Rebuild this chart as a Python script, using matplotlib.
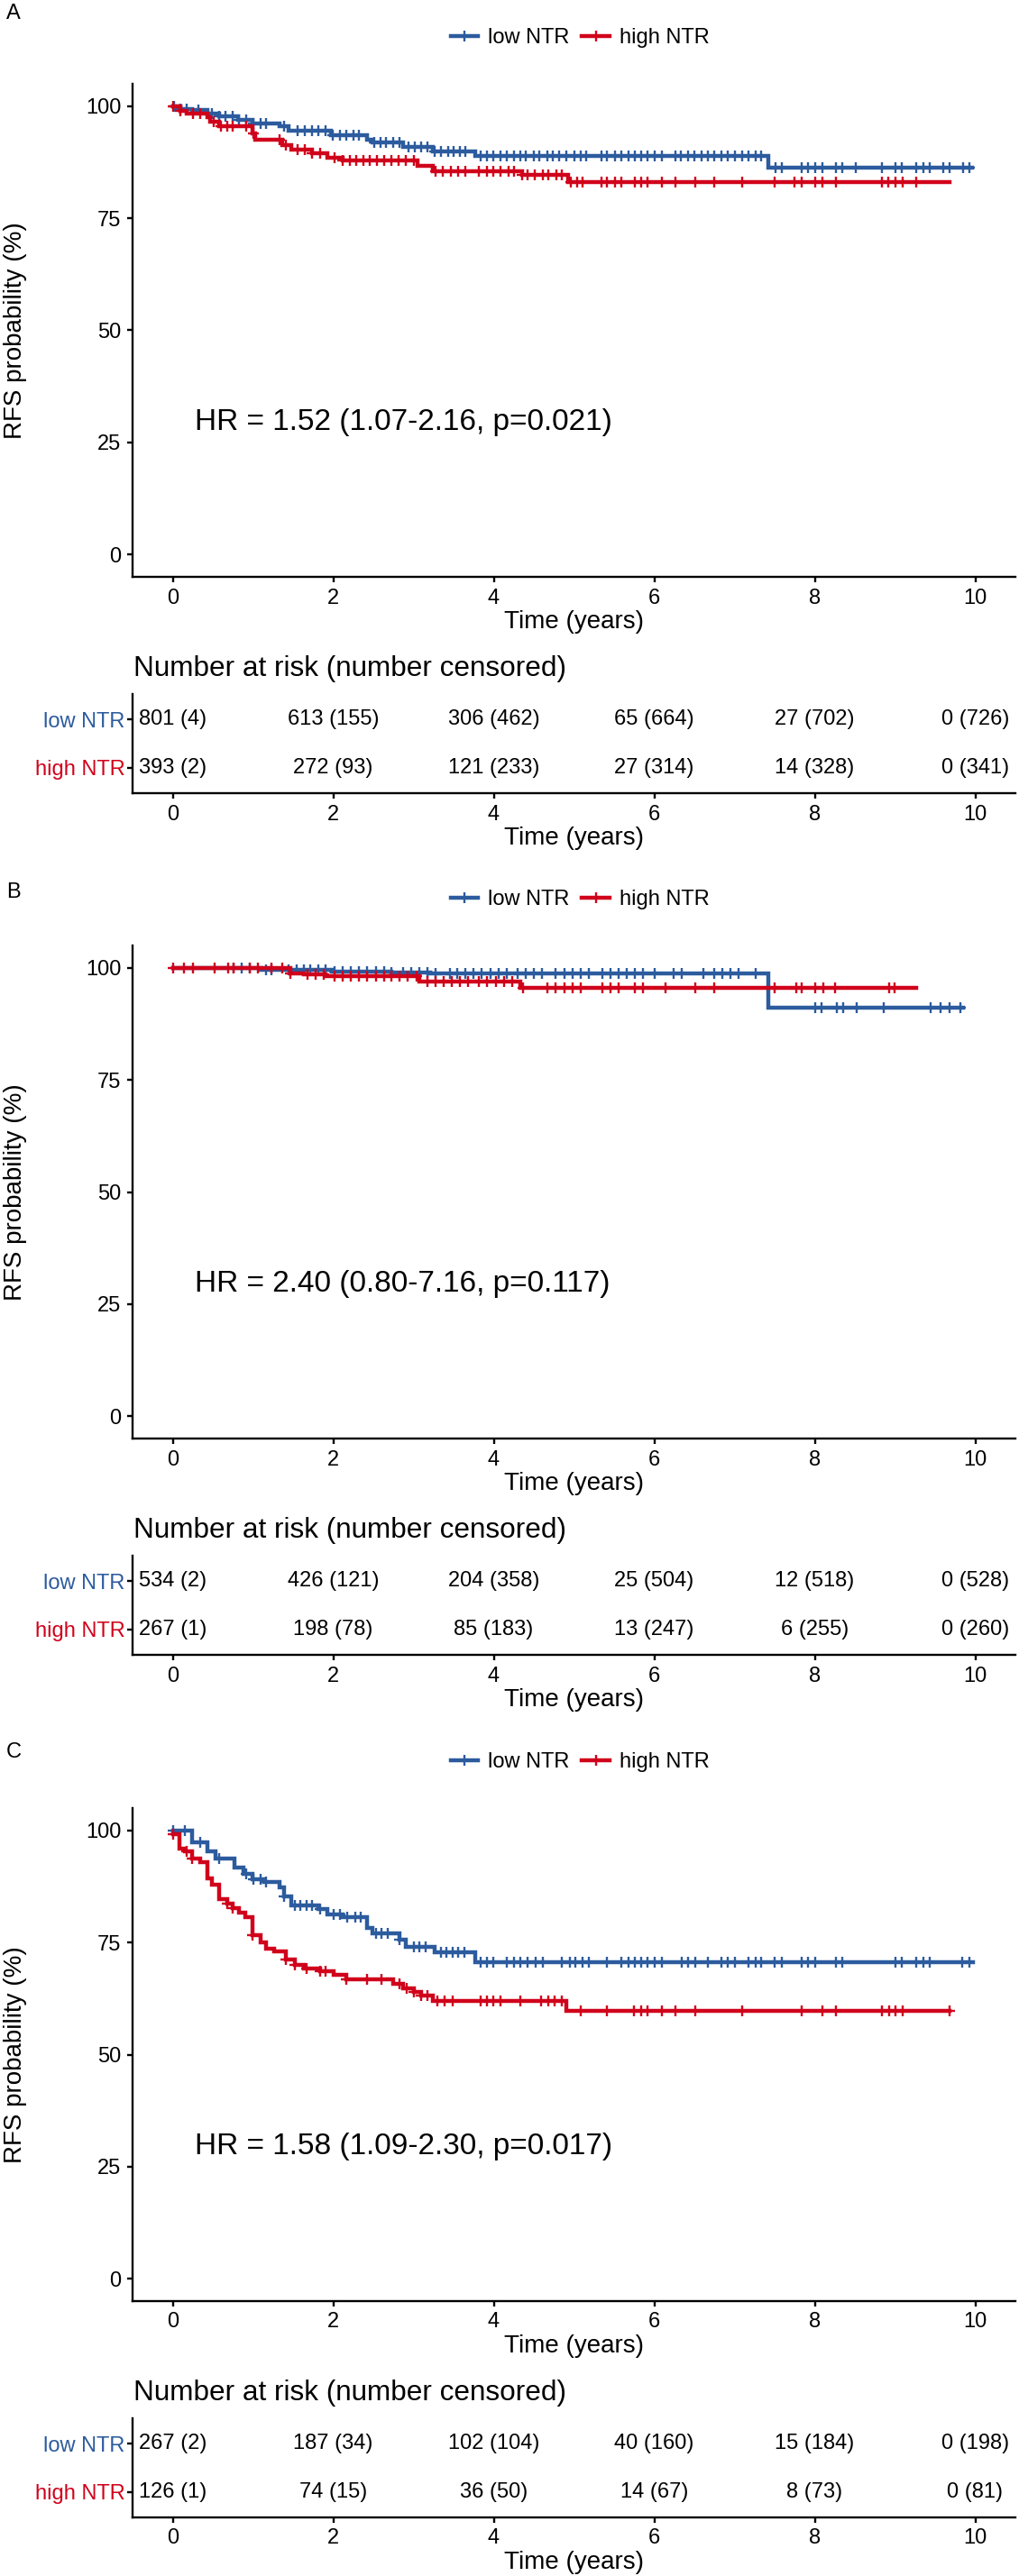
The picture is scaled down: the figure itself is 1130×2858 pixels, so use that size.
import numpy as np
import matplotlib
matplotlib.use('Agg')
import matplotlib.pyplot as plt
from matplotlib.lines import Line2D

plt.rcParams['font.family'] = ['Liberation Sans', 'DejaVu Sans']

# colours
BLUE = '#2C5B9E'
RED = '#D0021B'

# ---------------- data ----------------
groups = ['low NTR', 'high NTR']
risk_times = [0, 2, 4, 6, 8, 10]

# Panel A
a_low_t = [0, 0.10, 0.245, 0.43, 0.58, 0.81, 0.99, 1.33, 1.44, 1.97, 2.42, 2.49, 2.87, 3.24, 3.77, 7.42]
a_low_s = [100, 99.4, 99.1, 98.4, 97.8, 96.9, 96.2, 95.6, 94.6, 93.6, 92.6, 91.9, 90.9, 89.9, 88.9, 86.3]
a_low_end = 9.96
a_high_t = [0, 0.10, 0.17, 0.43, 0.47, 0.58, 0.99, 1.03, 1.37, 1.48, 1.74, 1.93, 2.12, 3.05, 3.24, 4.35, 4.93]
a_high_s = [100, 98.9, 98.3, 97.6, 96.6, 95.6, 93.9, 92.6, 91.3, 90.3, 89.6, 88.6, 87.9, 86.6, 85.4, 84.6, 83.1]
a_high_end = 9.68
a_low_cens = [0.02, 0.10, 0.17, 0.32, 0.49, 0.58, 0.66, 0.75, 0.83, 0.92, 1.0, 1.09, 1.16, 1.39, 1.56,
              1.65, 1.74, 1.82, 1.91, 1.99, 2.08, 2.16, 2.25, 2.32, 2.51, 2.59, 2.66, 2.75, 2.83, 2.94,
              3.02, 3.09, 3.17, 3.26, 3.34, 3.43, 3.50, 3.58, 3.65, 3.84, 3.92, 3.99, 4.08, 4.16, 4.25,
              4.33, 4.40, 4.50, 4.57, 4.67, 4.74, 4.81, 4.91, 5.0, 5.08, 5.15, 5.34, 5.41, 5.51, 5.59,
              5.68, 5.76, 5.84, 5.92, 6.01, 6.09, 6.26, 6.33, 6.42, 6.50, 6.59, 6.67, 6.75, 6.84, 6.92,
              7.01, 7.09, 7.17, 7.26, 7.33, 7.51, 7.59, 7.84, 7.92, 8.01, 8.09, 8.26, 8.34, 8.51, 8.84,
              9.01, 9.08, 9.26, 9.35, 9.43, 9.60, 9.68, 9.85, 9.93]
a_high_cens = [0.0, 0.10, 0.25, 0.34, 0.51, 0.60, 0.68, 0.75, 0.92, 1.0, 1.33, 1.41, 1.56, 1.65, 1.74,
               1.84, 2.02, 2.12, 2.21, 2.29, 2.38, 2.46, 2.55, 2.64, 2.72, 2.81, 2.90, 3.0, 3.28, 3.37,
               3.47, 3.56, 3.65, 3.82, 3.92, 3.99, 4.08, 4.18, 4.25, 4.35, 4.42, 4.51, 4.61, 4.68, 4.78,
               4.85, 4.96, 5.04, 5.11, 5.34, 5.41, 5.51, 5.59, 5.76, 5.84, 5.92, 6.09, 6.26, 6.51, 6.75,
               7.09, 7.50, 7.75, 7.84, 8.0, 8.09, 8.26, 8.84, 8.92, 9.01, 9.09, 9.26]
a_low_risk = ['801 (4)', '613 (155)', '306 (462)', '65 (664)', '27 (702)', '0 (726)']
a_high_risk = ['393 (2)', '272 (93)', '121 (233)', '27 (314)', '14 (328)', '0 (341)']
a_hr = 'HR = 1.52 (1.07-2.16, p=0.021)'

# Panel B
b_low_t = [0, 1.10, 1.98, 2.73, 3.21, 7.42]
b_low_s = [100, 99.6, 99.2, 98.9, 98.7, 91.1]
b_low_end = 9.85
b_high_t = [0, 1.47, 1.64, 1.91, 3.07, 4.33]
b_high_s = [100, 98.8, 98.5, 98.1, 96.9, 95.6]
b_high_end = 9.26
b_low_cens = [0.76, 0.86, 0.96, 1.16, 1.23, 1.44, 1.54, 1.64, 1.71, 1.81, 1.91, 2.02, 2.12, 2.22, 2.32,
              2.42, 2.53, 2.63, 2.73, 2.87, 2.97, 3.07, 3.17, 3.28, 3.45, 3.55, 3.65, 3.75, 3.85, 3.96,
              4.06, 4.16, 4.30, 4.40, 4.50, 4.60, 4.77, 4.88, 4.98, 5.08, 5.18, 5.35, 5.45, 5.56, 5.66,
              5.76, 5.86, 6.0, 6.24, 6.34, 6.61, 6.75, 6.85, 6.95, 7.05, 7.26, 8.01, 8.08, 8.28, 8.35,
              8.52, 8.86, 9.44, 9.57, 9.68, 9.81]
b_high_cens = [0.0, 0.14, 0.25, 0.52, 0.69, 0.76, 0.96, 1.06, 1.23, 1.37, 1.47, 1.68, 1.78, 1.88, 2.02,
               2.12, 2.22, 2.32, 2.42, 2.53, 2.63, 2.73, 2.83, 2.93, 3.04, 3.17, 3.28, 3.38, 3.48, 3.58,
               3.68, 3.82, 3.92, 4.03, 4.13, 4.23, 4.37, 4.67, 4.77, 4.88, 4.98, 5.08, 5.35, 5.45, 5.56,
               5.76, 5.86, 6.14, 6.51, 6.75, 7.50, 7.77, 7.84, 8.01, 8.11, 8.25, 8.93, 8.99]
b_low_risk = ['534 (2)', '426 (121)', '204 (358)', '25 (504)', '12 (518)', '0 (528)']
b_high_risk = ['267 (1)', '198 (78)', '85 (183)', '13 (247)', '6 (255)', '0 (260)']
b_hr = 'HR = 2.40 (0.80-7.16, p=0.117)'

# Panel C
c_low_t = [0, 0.245, 0.43, 0.53, 0.77, 0.88, 0.99, 1.14, 1.33, 1.39, 1.48, 1.82, 1.93, 2.12, 2.42,
           2.49, 2.83, 2.90, 3.26, 3.77]
c_low_s = [100, 97.3, 95.3, 93.7, 91.7, 90.3, 89.2, 88.5, 87.3, 85.3, 83.3, 82.5, 81.3, 80.7, 78.3,
           77.0, 75.7, 74.0, 72.8, 70.7]
c_low_end = 9.97
c_high_t = [0, 0.08, 0.15, 0.245, 0.34, 0.43, 0.49, 0.58, 0.68, 0.75, 0.83, 0.90, 0.99, 1.09, 1.16,
            1.26, 1.41, 1.52, 1.63, 1.84, 2.0, 2.16, 2.75, 2.87, 3.0, 3.09, 3.24, 4.91]
c_high_s = [99.2, 96.0, 95.3, 93.7, 93.0, 89.3, 88.0, 84.7, 83.7, 82.7, 81.7, 80.7, 76.7, 75.0, 73.7,
            73.0, 71.3, 70.0, 69.3, 68.7, 67.7, 66.7, 65.7, 64.7, 64.0, 63.2, 62.0, 59.7]
c_high_end = 9.68
c_low_cens = [0.0, 0.15, 0.34, 0.58, 0.92, 1.01, 1.09, 1.16, 1.39, 1.52, 1.59, 1.67, 1.74, 1.84, 2.0,
              2.08, 2.17, 2.27, 2.34, 2.53, 2.60, 2.68, 2.83, 3.0, 3.07, 3.15, 3.34, 3.41, 3.49, 3.56,
              3.64, 3.84, 3.92, 3.99, 4.16, 4.25, 4.33, 4.42, 4.52, 4.61, 4.85, 4.95, 5.02, 5.11, 5.19,
              5.41, 5.59, 5.68, 5.76, 5.84, 5.92, 6.01, 6.09, 6.34, 6.42, 6.51, 6.67, 6.84, 6.92, 7.01,
              7.17, 7.26, 7.33, 7.50, 7.59, 7.84, 7.92, 8.0, 8.26, 8.34, 9.01, 9.08, 9.26, 9.35, 9.43,
              9.84, 9.93]
c_high_cens = [0.0, 0.17, 0.245, 0.68, 0.75, 0.99, 1.41, 1.52, 1.67, 1.84, 1.91, 2.16, 2.42, 2.60, 2.83,
               2.92, 3.0, 3.09, 3.17, 3.30, 3.39, 3.49, 3.84, 3.92, 3.99, 4.08, 4.33, 4.59, 4.68, 4.76,
               4.85, 5.08, 5.41, 5.75, 5.84, 5.92, 6.09, 6.26, 6.51, 7.09, 7.84, 8.09, 8.26, 8.84, 8.93,
               9.01, 9.09, 9.68]
c_low_risk = ['267 (2)', '187 (34)', '102 (104)', '40 (160)', '15 (184)', '0 (198)']
c_high_risk = ['126 (1)', '74 (15)', '36 (50)', '14 (67)', '8 (73)', '0 (81)']
c_hr = 'HR = 1.58 (1.09-2.30, p=0.017)'

panels = [
    ('A', a_low_t, a_low_s, a_low_end, a_low_cens, a_high_t, a_high_s, a_high_end, a_high_cens,
     a_low_risk, a_high_risk, a_hr),
    ('B', b_low_t, b_low_s, b_low_end, b_low_cens, b_high_t, b_high_s, b_high_end, b_high_cens,
     b_low_risk, b_high_risk, b_hr),
    ('C', c_low_t, c_low_s, c_low_end, c_low_cens, c_high_t, c_high_s, c_high_end, c_high_cens,
     c_low_risk, c_high_risk, c_hr),
]

# ---------------- layout (pixels) ----------------
W, H = 1130, 2858
offsets = [0, 956, 1913]
letter_y = [15, 990, 1944]

def box(l, t, r, b):
    return [l / W, 1 - b / H, (r - l) / W, (b - t) / H]

fig = plt.figure(figsize=(W / 100, H / 100), dpi=100)

TICK_FS = 17
LAB_FS = 20
LW = 3.2

def style_axes(ax):
    for s in ['top', 'right']:
        ax.spines[s].set_visible(False)
    for s in ['left', 'bottom']:
        ax.spines[s].set_linewidth(1.7)
    ax.tick_params(width=1.7, length=4, labelsize=TICK_FS, color='black', pad=5)

def km(ax, t, s, end, cens, col):
    tt = list(t) + [end]
    ss = list(s) + [s[-1]]
    ax.step(tt, ss, where='post', color=col, lw=LW, solid_joinstyle='miter')
    idx = np.searchsorted(np.array(t), np.array(cens), side='right') - 1
    ax.plot(cens, np.array(s)[idx], ls='none', marker='+', ms=9, mew=1.7, color=col)

for k, (lab, lt, ls_, le, lc, ht, hs, he, hc, lrisk, hrisk, hr) in enumerate(panels):
    o = offsets[k]
    fig.text(15 / W, 1 - letter_y[k] / H, lab, fontsize=17, ha='center', va='center')

    # survival curves
    ax = fig.add_axes(box(147, o + 93, 1126, o + 640))
    km(ax, lt, ls_, le, lc, BLUE)
    km(ax, ht, hs, he, hc, RED)
    ax.set_xlim(-0.5, 10.5)
    ax.set_ylim(-5, 105)
    ax.set_xticks(risk_times)
    ax.set_yticks([0, 25, 50, 75, 100])
    style_axes(ax)
    ax.set_xlabel('Time (years)', fontsize=LAB_FS, va='center')
    ax.xaxis.set_label_coords(0.5, -50 / 547)
    ax.set_ylabel('RFS probability (%)', fontsize=LAB_FS, va='center')
    ax.yaxis.set_label_coords(-(147 - 17) / 979, 0.5)
    ax.text(0.28, 29.5, hr, fontsize=24, ha='left', va='center')

    handles = [Line2D([], [], color=BLUE, lw=LW, marker='+', ms=9, mew=1.7),
               Line2D([], [], color=RED, lw=LW, marker='+', ms=9, mew=1.7)]
    fig.legend(handles, groups, loc='center', ncol=2, frameon=False, fontsize=17,
               bbox_to_anchor=(643 / W, 1 - (o + 42) / H), handlelength=1.3,
               handletextpad=0.45, columnspacing=0.6)

    # risk table
    rt = fig.add_axes(box(147, o + 770, 1126, o + 880))
    rt.set_xlim(-0.5, 10.5)
    rt.set_ylim(0.48, 2.52)
    for x, txt in zip(risk_times, lrisk):
        rt.text(x, 2, txt, fontsize=17, ha='center', va='center')
    for x, txt in zip(risk_times, hrisk):
        rt.text(x, 1, txt, fontsize=17, ha='center', va='center')
    rt.set_xticks(risk_times)
    rt.set_yticks([2, 1])
    rt.set_yticklabels(groups)
    for tl, col in zip(rt.get_yticklabels(), [BLUE, RED]):
        tl.set_color(col)
    style_axes(rt)
    rt.tick_params(axis='y', pad=2)
    rt.set_xlabel('Time (years)', fontsize=LAB_FS, va='center')
    rt.xaxis.set_label_coords(0.5, -50 / 110)
    rt.text(0.001, 1 + 28 / 110, 'Number at risk (number censored)', transform=rt.transAxes,
            fontsize=22.7, ha='left', va='center')

fig.savefig('out.png', dpi=100)
